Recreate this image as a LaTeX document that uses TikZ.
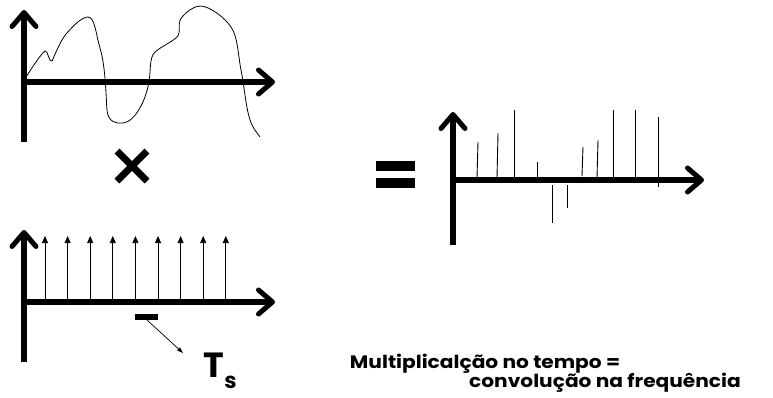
\documentclass[tikz,border=0pt]{standalone}
\usepackage{fontspec}
\setmainfont{Poppins}
\newfontfamily\capfont[FakeStretch=1.12]{Poppins}
\usetikzlibrary{arrows.meta}
\tikzset{
  axis/.style={line width=5.5pt,-{Straight Barb[length=14pt,width=24pt,line width=5pt,round]}},
  axisplain/.style={line width=5.5pt},
  impulse/.style={line width=0.7pt,-{Triangle[length=7pt,width=6pt]}},
  stem/.style={line width=0.9pt},
  curve/.style={line width=0.8pt},
  lbl/.style={font=\bfseries, inner sep=0pt},
  captext/.style={lbl,anchor=base,font=\capfont\bfseries\fontsize{18}{20}\selectfont},
}
\begin{document}
\begin{tikzpicture}[x=1pt,y=-1pt]
\useasboundingbox (0,0) rectangle (773,397);
% ---- top signal ----
\draw[axisplain] (24,142) -- (24,82);
\draw[axis] (24,84) -- (24,10);
\draw[axis] (22,82) -- (275,82);
\draw[curve] (24,80) .. controls (32,68) and (40,55) .. (45,51)
  .. controls (48,50) and (49,63) .. (52,61)
  .. controls (57,50) and (60,42) .. (66,34)
  .. controls (74,25) and (82,17) .. (88,17)
  .. controls (95,17) and (96,35) .. (100,48)
  .. controls (106,68) and (106,100) .. (107,110)
  .. controls (108,122) and (116,124) .. (123,123)
  .. controls (135,122) and (146,100) .. (149,82)
  .. controls (151,70) and (149,58) .. (155,52)
  .. controls (162,46) and (172,42) .. (177,37)
  .. controls (182,32) and (176,22) .. (183,16)
  .. controls (188,10) and (196,6) .. (200,6)
  .. controls (210,6) and (225,18) .. (231,27)
  .. controls (238,37) and (238,55) .. (241,70)
  .. controls (245,90) and (246,112) .. (252,125)
  .. controls (255,131) and (258,134) .. (260,137);
% ---- times sign ----
\draw[line width=7pt] (117,151) -- (147,181) (147,151) -- (117,181);
% ---- equal sign ----
\fill (376,161) rectangle (415,171);
\fill (376,178) rectangle (415,188);
% ---- impulse train ----
\draw[axisplain] (24,362) -- (24,302);
\draw[axis] (24,304) -- (24,230);
\draw[axis] (22,302) -- (275,302);
\foreach \x in {45,67.6,90.2,112.8,135.4,158,180.6,203.2,225.8}
  \draw[impulse] (\x,302) -- (\x,236);
\fill (135,314) rectangle (158,320);
\coordinate (tsbar) at (147,320);
\node[lbl,anchor=base west,font=\bfseries\fontsize{35}{35}\selectfont] (ts) at (203,377) {T};
\node[lbl,anchor=base west,font=\bfseries\fontsize{22}{22}\selectfont] (tssub) at (ts.base east) [yshift=-11pt] {s};
\coordinate (tsend) at (183,353);
\draw[line width=0.7pt,-{Triangle[length=6pt,width=4pt]}] (tsbar) -- (tsend);
% ---- product spectrum ----
\draw[axisplain] (453,245) -- (453,180);
\draw[axis] (453,182) -- (453,112);
\draw[axis] (451,180) -- (704,180);
\draw[stem] (478,142) -- (477,178);
\draw[stem] (498,133) -- (497,178);
\draw[stem] (514,110) -- (514,178);
\draw[stem] (537,162) -- (537,178);
\draw[stem] (552,185) -- (552,223);
\draw[stem] (567,185) -- (567,208);
\draw[stem] (583,147) -- (582,176);
\draw[stem] (598,140) -- (597,178);
\draw[stem] (613,110) -- (613,178);
\draw[stem] (635,110) -- (635,178);
\draw[stem] (658,117) -- (658,187);
% ---- caption ----
\node[captext] (c1) at (485,368) {Multiplicalção no tempo =};
\node[captext] (c2) at (605,387) {convolução na frequência};
\end{tikzpicture}
\end{document}
